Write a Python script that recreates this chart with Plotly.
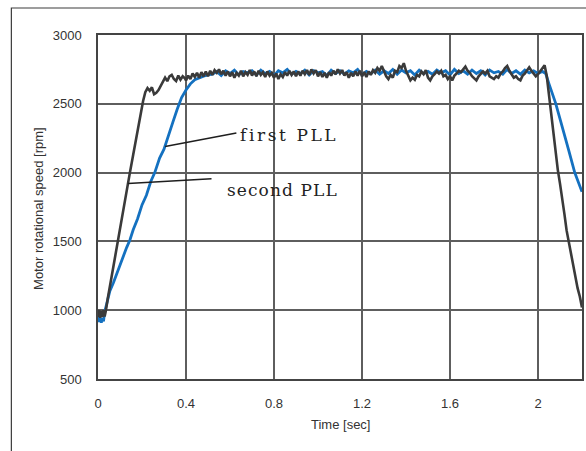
import numpy as np
import plotly.graph_objects as go

# ---- speed response data (time in s, speed in rpm) ----
# dark trace: start-up noise, acceleration, settling
dark_t_start = [0.0, 0.005, 0.01, 0.015, 0.02, 0.025, 0.03, 0.035, 0.045, 0.06, 0.08,
                0.10, 0.12, 0.136, 0.145, 0.16, 0.18, 0.195, 0.205, 0.215, 0.225,
                0.235, 0.245, 0.255, 0.265, 0.275, 0.285, 0.295, 0.305, 0.315,
                0.325, 0.335, 0.345, 0.355, 0.365, 0.375, 0.385, 0.395]
dark_v_start = [950, 1000, 945, 995, 950, 1000, 955, 990, 1090, 1230, 1410,
                1590, 1775, 1920, 2000, 2130, 2310, 2440, 2520, 2585, 2615,
                2595, 2620, 2570, 2580, 2600, 2630, 2670, 2690, 2665,
                2700, 2710, 2680, 2665, 2705, 2675, 2700, 2685]

# dark trace: steady running, sampled every 10 ms from 0.40 s to 2.03 s
dark_plateau_start = 0.40
dark_plateau_step = 0.01
dark_v_plateau = [
    2670, 2705, 2680, 2720, 2695, 2725, 2690, 2730, 2700, 2735,
    2700, 2740, 2710, 2745, 2725, 2750, 2715, 2740, 2705, 2735,
    2700, 2730, 2690, 2725, 2705, 2740, 2700, 2730, 2710, 2745,
    2705, 2735, 2700, 2740, 2710, 2730, 2695, 2735, 2705, 2725,
    2690, 2720, 2680, 2715, 2695, 2730, 2705, 2740, 2710, 2735,
    2700, 2735, 2705, 2740, 2715, 2745, 2710, 2750, 2720, 2745,
    2700, 2730, 2695, 2725, 2690, 2730, 2705, 2740, 2715, 2750,
    2720, 2745, 2705, 2730, 2690, 2725, 2700, 2735, 2705, 2740,
    2700, 2730, 2695, 2735, 2710, 2745, 2725, 2760, 2740, 2775,
    2735, 2700, 2680, 2710, 2690, 2740, 2730, 2775, 2760, 2795,
    2740, 2700, 2670, 2690, 2675, 2710, 2700, 2735, 2715, 2745,
    2690, 2670, 2700, 2715, 2735, 2720, 2740, 2700, 2710, 2680,
    2700, 2670, 2705, 2720, 2740, 2730, 2755, 2770, 2740, 2725,
    2700, 2685, 2670, 2700, 2715, 2735, 2720, 2740, 2700, 2690,
    2680, 2700, 2690, 2720, 2735, 2760, 2775, 2740, 2715, 2690,
    2700, 2680, 2670, 2705, 2720, 2745, 2765, 2740, 2720, 2700,
    2715, 2740, 2760, 2780,
]

# dark trace: deceleration
dark_t_end = [2.04, 2.05, 2.06, 2.07, 2.08, 2.09, 2.10, 2.11, 2.12, 2.13,
              2.14, 2.15, 2.16, 2.17, 2.18, 2.19, 2.20]
dark_v_end = [2700, 2560, 2440, 2290, 2160, 2020, 1920, 1790, 1700, 1580,
              1490, 1410, 1320, 1250, 1160, 1100, 1020]

# blue trace: start-up and acceleration
blue_t_start = [0.0, 0.005, 0.01, 0.015, 0.02, 0.025, 0.03, 0.04, 0.054, 0.07,
                0.09, 0.11, 0.13, 0.145, 0.16, 0.18, 0.20, 0.22, 0.24, 0.258,
                0.28, 0.30, 0.32, 0.34, 0.36, 0.38, 0.40, 0.42, 0.44, 0.46,
                0.48, 0.50]
blue_v_start = [950, 915, 945, 910, 940, 920, 985, 1060, 1140, 1200,
                1290, 1365, 1455, 1510, 1585, 1665, 1765, 1835, 1935, 2000,
                2105, 2170, 2260, 2365, 2460, 2545, 2600, 2645, 2675, 2690,
                2700, 2710]

# blue trace: steady running, sampled every 20 ms from 0.52 s to 2.02 s
blue_plateau_start = 0.52
blue_plateau_step = 0.02
blue_v_plateau = [
    2715, 2735, 2705, 2740, 2720, 2745, 2710, 2735, 2725, 2740,
    2710, 2745, 2720, 2735, 2705, 2740, 2725, 2750, 2715, 2735,
    2720, 2745, 2710, 2740, 2725, 2735, 2705, 2745, 2720, 2740,
    2715, 2740, 2725, 2750, 2710, 2735, 2720, 2745, 2715, 2740,
    2720, 2750, 2715, 2745, 2725, 2740, 2710, 2745, 2720, 2735,
    2715, 2745, 2725, 2740, 2710, 2750, 2720, 2740, 2715, 2745,
    2720, 2740, 2710, 2745, 2725, 2735, 2715, 2750, 2720, 2740,
    2715, 2745, 2725, 2740, 2720, 2735,
]

# blue trace: deceleration
blue_t_end = [2.035, 2.05, 2.065, 2.08, 2.10, 2.12, 2.14, 2.167, 2.185, 2.20]
blue_v_end = [2720, 2645, 2575, 2505, 2390, 2280, 2160, 2000, 1930, 1860]

# axis ticks
x_tick_vals = [0, 0.4, 0.8, 1.2, 1.6, 2.0]
x_tick_text = ["0", "0.4", "0.8", "1.2", "1.6", "2"]
y_tick_vals = [500, 1000, 1500, 2000, 2500, 3000]

# labels with their leader lines: (text, text x, text y, line start, line end, tracking px)
labels = [
    ("first PLL", 0.638, 2273, (0.305, 2190), (0.629, 2288), 2.6),
    ("second PLL", 0.579, 1874, (0.136, 1920), (0.516, 1955), 1.1),
]

# ---- assemble series ----
dark_t_plateau = dark_plateau_start + dark_plateau_step * np.arange(len(dark_v_plateau))
blue_t_plateau = blue_plateau_start + blue_plateau_step * np.arange(len(blue_v_plateau))

dark_t = np.concatenate([dark_t_start, dark_t_plateau, dark_t_end])
dark_v = np.concatenate([dark_v_start, dark_v_plateau, dark_v_end])
blue_t = np.concatenate([blue_t_start, blue_t_plateau, blue_t_end])
blue_v = np.concatenate([blue_v_start, blue_v_plateau, blue_v_end])

BLUE = "#1471c0"
DARK = "#3a3a3a"
GRID = "#5e5e5e"
TEXT = "#333333"
SANS = "Liberation Sans, Arial, sans-serif"

fig = go.Figure()
fig.add_trace(go.Scatter(x=blue_t, y=blue_v, mode="lines",
                         line=dict(color=BLUE, width=2.8), showlegend=False,
                         hoverinfo="skip"))
fig.add_trace(go.Scatter(x=dark_t, y=dark_v, mode="lines",
                         line=dict(color=DARK, width=2.6), showlegend=False,
                         hoverinfo="skip"))

axis_common = dict(
    showgrid=True, gridcolor=GRID, gridwidth=1.5,
    showline=True, mirror=True, linecolor="#444444", linewidth=1.5,
    zeroline=False, ticks="outside", ticklen=12, tickcolor="rgba(0,0,0,0)",
    tickfont=dict(family=SANS, size=13, color=TEXT),
)
fig.update_xaxes(range=[0, 2.2], tickvals=x_tick_vals, ticktext=x_tick_text,
                 **axis_common)
fig.update_yaxes(range=[500, 3000], tickvals=y_tick_vals, **axis_common)

shapes = []
annotations = []
tracking = {}
for text, tx, ty, (x0, y0), (x1, y1), track in labels:
    shapes.append(dict(type="line", xref="x", yref="y", x0=x0, y0=y0, x1=x1, y1=y1,
                       line=dict(color="#1e1e1e", width=1.5)))
    annotations.append(dict(text=text, x=tx, y=ty, xref="x", yref="y",
                            xanchor="left", yanchor="middle", align="left",
                            showarrow=False,
                            font=dict(family="DejaVu Serif, serif", size=17,
                                      color="#222222")))
    tracking[text] = track

# outer frame around the whole figure (left and top edges visible)
shapes.append(dict(type="rect", xref="paper", yref="paper",
                   x0=-0.179, x1=1.03, y0=-0.3, y1=1.0785,
                   line=dict(color="#3c3c3c", width=1.2), layer="below"))

annotations.append(dict(text="Motor rotational speed [rpm]", textangle=-90,
                        x=-0.1235, y=0.495, xref="paper", yref="paper",
                        xanchor="center", yanchor="middle", showarrow=False,
                        font=dict(family=SANS, size=13, color=TEXT)))
annotations.append(dict(text="Time [sec]", x=0.5, y=-0.131,
                        xref="paper", yref="paper",
                        xanchor="center", yanchor="middle", showarrow=False,
                        font=dict(family=SANS, size=13, color=TEXT)))

fig.update_layout(
    width=586, height=451,
    margin=dict(l=98, r=2, t=35, b=72),
    paper_bgcolor="white", plot_bgcolor="white",
    shapes=shapes, annotations=annotations,
)

# widen the tracking of the serif labels
spacing_js = """
var tracking = %s;
document.querySelectorAll('.annotation-text').forEach(function (el) {
  var t = el.textContent;
  if (tracking[t] !== undefined) { el.style.letterSpacing = tracking[t] + 'px'; }
});
""" % str(tracking).replace("'", '"')
fig.write_html("out.html", post_script=spacing_js)
